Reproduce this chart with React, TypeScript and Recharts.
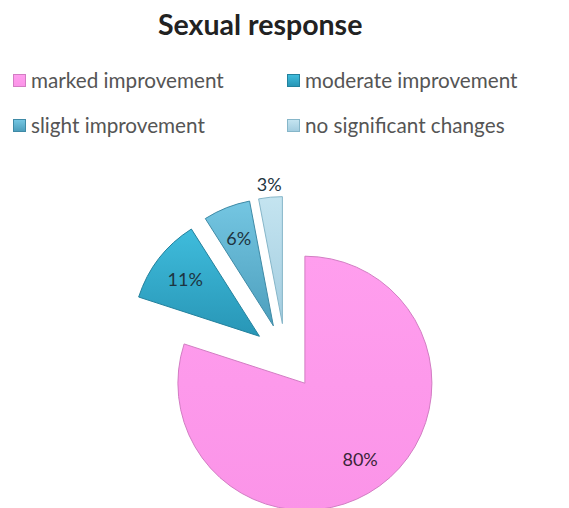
import React from 'react';
import { PieChart, Pie, Cell } from 'recharts';

const categories = ['marked improvement', 'moderate improvement', 'slight improvement', 'no significant changes'];
const values = [80, 11, 6, 3];
const labels = ['80%', '11%', '6%', '3%'];
const colors = ['#ff99ec', '#33aed0', '#62b8d6', '#b4dae9'];
const gradTop = ['#ff9eee', '#3fbcdc', '#74c6e2', '#c4e4f0'];
const gradBottom = ['#fb94e8', '#2896b6', '#4d9fbd', '#a3cde0'];
const strokes = ['#d27dc3', '#23819d', '#3f8aa6', '#86b6c9'];

const data = categories.map((name, i) => ({ name, value: values[i], label: labels[i] }));

const W = 569;
const H = 508;
const CX = 285.5;
const CY = 356.5;
const R = 127;
const EXPLODE = 33;
const RAD = Math.PI / 180;

const total = values.reduce((a, b) => a + b, 0);
const offsets = values.map((v, i) => {
  const cum = values.slice(0, i).reduce((a, b) => a + b, 0);
  const theta = ((cum + v / 2) / total) * 360 * RAD;
  return { dx: EXPLODE * Math.sin(theta), dy: -EXPLODE * Math.cos(theta) };
});

const makeLabel = (target: number) => (props: any) => {
  const { cx, cy, midAngle, outerRadius, index } = props;
  if (index !== target) return null;
  const r = index === 3 ? outerRadius + 13 : outerRadius * 0.74;
  const x = cx + r * Math.cos(-midAngle * RAD);
  const y = cy + r * Math.sin(-midAngle * RAD);
  return (
    <text x={x} y={y} textAnchor="middle" dominantBaseline="central" fill={index === 0 ? '#3a2438' : '#1e3440'}
      style={{ fontFamily: 'Lato, sans-serif', fontSize: 18 }}>
      {data[index].label}
    </text>
  );
};

const LegendBlock = () => (
  <div style={{ position: 'absolute', left: 0, top: 69, width: W, height: 90, fontFamily: 'Lato, sans-serif', fontSize: 20.7, color: '#555' }}>
    {categories.map((c, i) => {
      const col = i % 2;
      const row = Math.floor(i / 2);
      return (
        <div key={c} style={{ position: 'absolute', left: col === 0 ? 13 : 287, top: row * 45, display: 'flex', alignItems: 'center', height: 22, whiteSpace: 'nowrap' }}>
          <span style={{ display: 'inline-block', width: 13, height: 13, background: `linear-gradient(${gradTop[i]}, ${gradBottom[i]})`, border: `1px solid ${strokes[i]}`, boxSizing: 'border-box', marginRight: 5 }} />
          <span>{c}</span>
        </div>
      );
    })}
  </div>
);

export default function App() {
  return (
    <div style={{ position: 'absolute', left: 0, top: 0, width: W, height: H, background: '#fff' }}>
      <PieChart width={W} height={H} margin={{ top: 0, right: 0, bottom: 0, left: 0 }}>
        <defs>
          {colors.map((c, i) => (
            <linearGradient key={i} id={`g${i}`} x1="0" y1="0" x2="0" y2="1">
              <stop offset="0%" stopColor={gradTop[i]} />
              <stop offset="100%" stopColor={gradBottom[i]} />
            </linearGradient>
          ))}
        </defs>
        {values.map((_, target) => (
          <Pie
            key={target}
            data={data}
            dataKey="value"
            nameKey="name"
            cx={CX + offsets[target].dx}
            cy={CY + offsets[target].dy}
            outerRadius={R}
            startAngle={90}
            endAngle={-270}
            isAnimationActive={false}
            label={makeLabel(target)}
            labelLine={false}
            legendType="none"
          >
            {data.map((d, i) => (
              <Cell key={d.name} fill={i === target ? `url(#g${i})` : 'transparent'} stroke={i === target ? strokes[i] : 'none'} strokeWidth={i === target ? 1 : 0} />
            ))}
          </Pie>
        ))}
      </PieChart>
      <div style={{ position: 'absolute', left: 158, top: 7, whiteSpace: 'nowrap', fontFamily: 'Lato, sans-serif', fontWeight: 700, fontSize: 28.5, color: '#222' }}>
        Sexual response
      </div>
      <LegendBlock />
    </div>
  );
}
